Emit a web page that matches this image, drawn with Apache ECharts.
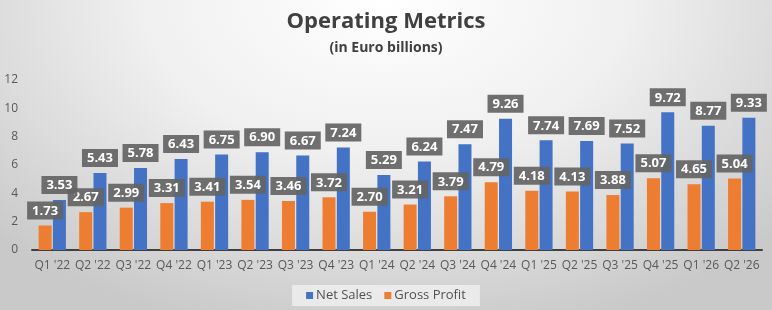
<html style="height: 100%">
	<head>
		<meta charset="utf-8">
	</head>
	<body style="height: 100%; width: 100%; margin: 0">
		<div id="container" style="height: 310px;width: 772px;background: radial-gradient(ellipse 70% 110% at 50% 0%, #ffffff 0%, #f0f0f0 45%, #c9c9c9 100%);"></div>
		<script type="text/javascript" src="https://cdn.jsdelivr.net/npm/echarts@6/dist/echarts.min.js"></script>
		<script type="text/javascript">
			var dom = document.getElementById("container");
			var myChart = echarts.init(dom);
			var option;

			var quarters = ["Q1 '22", "Q2 '22", "Q3 '22", "Q4 '22", "Q1 '23", "Q2 '23", "Q3 '23", "Q4 '23", "Q1 '24",
				"Q2 '24", "Q3 '24", "Q4 '24", "Q1 '25", "Q2 '25", "Q3 '25", "Q4 '25", "Q1 '26", "Q2 '26"
			];
			var netSales = [3.53, 5.43, 5.78, 6.43, 6.75, 6.90, 6.67, 7.24, 5.29, 6.24, 7.47, 9.26, 7.74, 7.69, 7.52, 9.72, 8.77, 9.33];
			var grossProfit = [1.73, 2.67, 2.99, 3.31, 3.41, 3.54, 3.46, 3.72, 2.70, 3.21, 3.79, 4.79, 4.18, 4.13, 3.88, 5.07, 4.65, 5.04];
			var yTicks = [0, 2, 4, 6, 8, 10, 12];

			var font = "'Open Sans', sans-serif";

			// boxed value labels, like the excel callouts
			var boxLabel = {
				show: true,
				position: 'top',
				distance: 6,
				color: '#fff',
				fontFamily: font,
				fontWeight: 'bold',
				fontSize: 13,
				backgroundColor: 'rgba(100,100,100,0.92)',
				padding: [3, 5, 2, 5],
				formatter: function(p) {
					return p.value.toFixed(2);
				}
			};

			option = {
				backgroundColor: 'transparent',
				title: {
					text: 'Operating Metrics',
					subtext: '(in Euro billions)',
					left: 'center',
					top: 6,
					itemGap: 8,
					textStyle: {
						fontFamily: font,
						fontSize: 22,
						fontWeight: 'bold',
						color: '#404040'
					},
					subtextStyle: {
						fontFamily: font,
						fontSize: 14,
						fontWeight: 'bold',
						color: '#404040'
					}
				},
				legend: {
					data: ['Net Sales', 'Gross Profit'],
					bottom: 4,
					left: 'center',
					icon: 'rect',
					itemWidth: 7,
					itemHeight: 7,
					itemGap: 12,
					itemStyle: { borderWidth: 0 },
					backgroundColor: 'rgba(240,240,240,0.8)',
					padding: [4, 14, 4, 14],
					textStyle: {
						fontFamily: font,
						fontSize: 13,
						color: '#505050',
						padding: [0, 0, 0, -2]
					}
				},
				grid: {
					left: 32,
					right: 10,
					top: 80,
					bottom: 60
				},
				xAxis: {
					type: 'category',
					data: quarters,
					axisTick: { show: false },
					axisLine: { lineStyle: { color: '#404040', width: 2 } },
					axisLabel: {
						fontFamily: font,
						fontSize: 12,
						color: '#595959',
						margin: 10,
						interval: 0
					}
				},
				yAxis: {
					type: 'value',
					min: yTicks[0],
					max: yTicks[yTicks.length - 1],
					interval: 2,
					splitLine: { show: false },
					axisLabel: {
						fontFamily: font,
						fontSize: 12,
						color: '#595959',
						margin: 14
					}
				},
				series: [{
					name: 'Gross Profit',
					type: 'bar',
					data: grossProfit,
					barWidth: 13,
					barGap: '10%',
					itemStyle: { color: '#ED7D31' },
					label: boxLabel
				}, {
					name: 'Net Sales',
					type: 'bar',
					data: netSales,
					barWidth: 13,
					barGap: '10%',
					itemStyle: { color: '#4472C4' },
					label: boxLabel
				}]
			};

			if (option && typeof option === 'object') {
				myChart.setOption(option);
			}
		</script>
	</body>
</html>
